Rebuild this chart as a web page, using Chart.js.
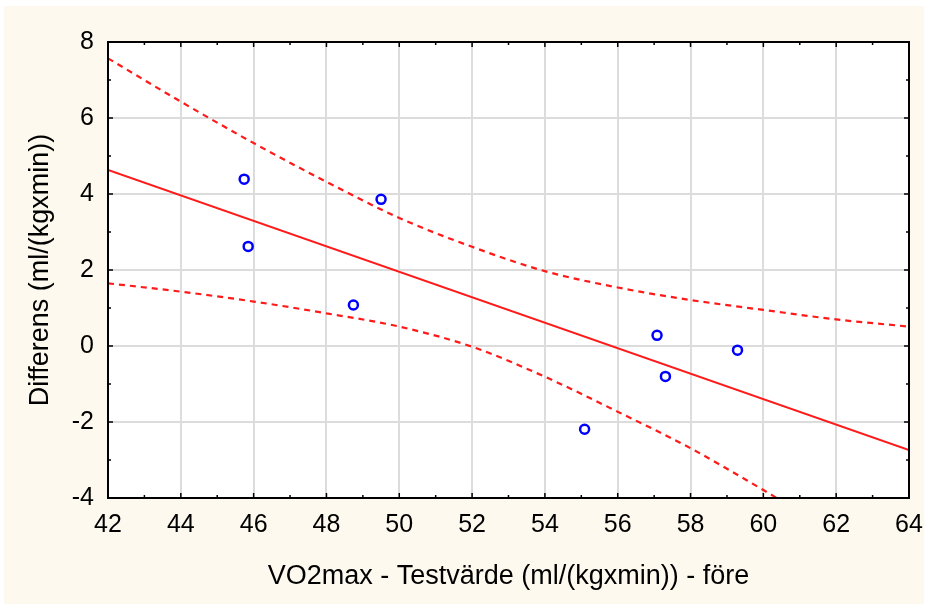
<!DOCTYPE html>
<html>
<head>
<meta charset="utf-8">
<script src="https://cdn.jsdelivr.net/npm/chart.js@4"></script>
<style>
  html, body { margin: 0; padding: 0; background: #ffffff; }
  #wrap { position: absolute; left: 4px; top: 6px; width: 920px; height: 598px; background: #fdf9ee; }
</style>
</head>
<body>
<div id="wrap"><canvas id="chart" width="920" height="598"></canvas></div>
<script>
// Mätpunkter: testvärde före (x) mot differens (y)
const pointX = [45.74, 45.85, 49.5, 48.74, 57.08, 57.31, 59.29, 55.09];
const pointY = [4.39, 2.62, 3.86, 1.08, 0.28, -0.80, -0.11, -2.19];

// Regressionslinje
const fitX = [42, 64];
const fitY = [4.63, -2.74];

// Konfidensband (övre och undre)
const upperX = [42, 44, 46, 48, 50, 52, 54, 56, 58, 60, 62, 64];
const upperY = [7.57, 6.43, 5.34, 4.32, 3.37, 2.61, 1.97, 1.54, 1.21, 0.95, 0.70, 0.51];
const lowerX = [42, 44, 46, 48, 50, 52, 54, 56, 58, 60, 60.37];
const lowerY = [1.65, 1.43, 1.17, 0.86, 0.51, -0.02, -0.81, -1.73, -2.69, -3.79, -4.0];

// Axelvärden
const xTickValues = [42, 44, 46, 48, 50, 52, 54, 56, 58, 60, 62, 64];
const yTickValues = [-4, -2, 0, 2, 4, 6, 8];

const xTitle = "VO2max - Testvärde (ml/(kgxmin)) - före";
const yTitle = "Differens (ml/(kgxmin))";

const toXY = (xs, ys) => xs.map((x, i) => ({ x, y: ys[i] }));

// vit plotyta, ram och små inåtriktade streck på alla fyra sidor
const frame = {
  id: "frame",
  beforeDraw(chart) {
    const { ctx, chartArea: a } = chart;
    ctx.save();
    ctx.fillStyle = "#ffffff";
    ctx.fillRect(a.left, a.top, a.right - a.left, a.bottom - a.top);
    ctx.restore();
  },
  afterDraw(chart) {
    const { ctx, chartArea: a, scales } = chart;
    ctx.save();
    ctx.strokeStyle = "#000000";
    ctx.lineWidth = 1.5;
    const marks = (vals) => {
      const out = [];
      vals.forEach((v, i) => {
        out.push({ v, len: 5 });
        if (i < vals.length - 1) out.push({ v: (v + vals[i + 1]) / 2, len: 3 });
      });
      return out;
    };
    ctx.beginPath();
    marks(xTickValues).forEach(m => {
      const px = scales.x.getPixelForValue(m.v);
      ctx.moveTo(px, a.top); ctx.lineTo(px, a.top + m.len);
      ctx.moveTo(px, a.bottom); ctx.lineTo(px, a.bottom - m.len);
    });
    marks(yTickValues).forEach(m => {
      const py = scales.y.getPixelForValue(m.v);
      ctx.moveTo(a.left, py); ctx.lineTo(a.left + m.len, py);
      ctx.moveTo(a.right, py); ctx.lineTo(a.right - m.len, py);
    });
    ctx.stroke();
    ctx.lineWidth = 2;
    ctx.strokeRect(a.left, a.top, a.right - a.left, a.bottom - a.top);
    ctx.restore();
  }
};

const tickFont = { family: "'Liberation Sans', Arial, sans-serif", size: 25 };
const titleFont = { family: "'Liberation Sans', Arial, sans-serif", size: 27 };

new Chart(document.getElementById("chart"), {
  type: "scatter",
  data: {
    datasets: [
      {
        data: toXY(upperX, upperY),
        showLine: true,
        borderColor: "#ff1a1a",
        borderWidth: 2.2,
        borderDash: [6, 5],
        pointRadius: 0,
        cubicInterpolationMode: "monotone",
      },
      {
        data: toXY(lowerX, lowerY),
        showLine: true,
        borderColor: "#ff1a1a",
        borderWidth: 2.2,
        borderDash: [6, 5],
        pointRadius: 0,
        cubicInterpolationMode: "monotone",
      },
      {
        data: toXY(fitX, fitY),
        showLine: true,
        borderColor: "#ff1a1a",
        borderWidth: 2,
        pointRadius: 0,
      },
      {
        data: toXY(pointX, pointY),
        pointStyle: "circle",
        pointRadius: 4.5,
        pointBorderWidth: 2.5,
        borderColor: "#0000ff",
        backgroundColor: "#ffffff",
      },
    ],
  },
  options: {
    responsive: false,
    animation: false,
    layout: { padding: { left: 0, top: 36, right: 15, bottom: 0 } },
    plugins: { legend: { display: false }, tooltip: { enabled: false } },
    scales: {
      x: {
        type: "linear",
        min: 42,
        max: 64,
        afterBuildTicks: (s) => { s.ticks = xTickValues.map(v => ({ value: v })); },
        afterFit: (s) => { s.height = 106; s.paddingLeft = 0; s.paddingRight = 0; },
        grid: { color: "#dcdcdc", lineWidth: 2, drawTicks: false },
        border: { display: false },
        ticks: { color: "#000000", font: tickFont, padding: 12, maxRotation: 0 },
        title: { display: true, text: xTitle, color: "#000000", font: titleFont, padding: { top: 0, bottom: 11 } },
      },
      y: {
        type: "linear",
        min: -4,
        max: 8,
        afterBuildTicks: (s) => { s.ticks = yTickValues.map(v => ({ value: v })); },
        afterFit: (s) => { s.width = 104; s.paddingTop = 0; s.paddingBottom = 0; },
        grid: { color: "#dcdcdc", lineWidth: 2, drawTicks: false },
        border: { display: false },
        ticks: { color: "#000000", font: tickFont, padding: 14 },
        title: { display: true, text: yTitle, color: "#000000", font: titleFont, padding: { top: 20, bottom: 0 } },
      },
    },
  },
  plugins: [frame],
});
</script>
</body>
</html>
